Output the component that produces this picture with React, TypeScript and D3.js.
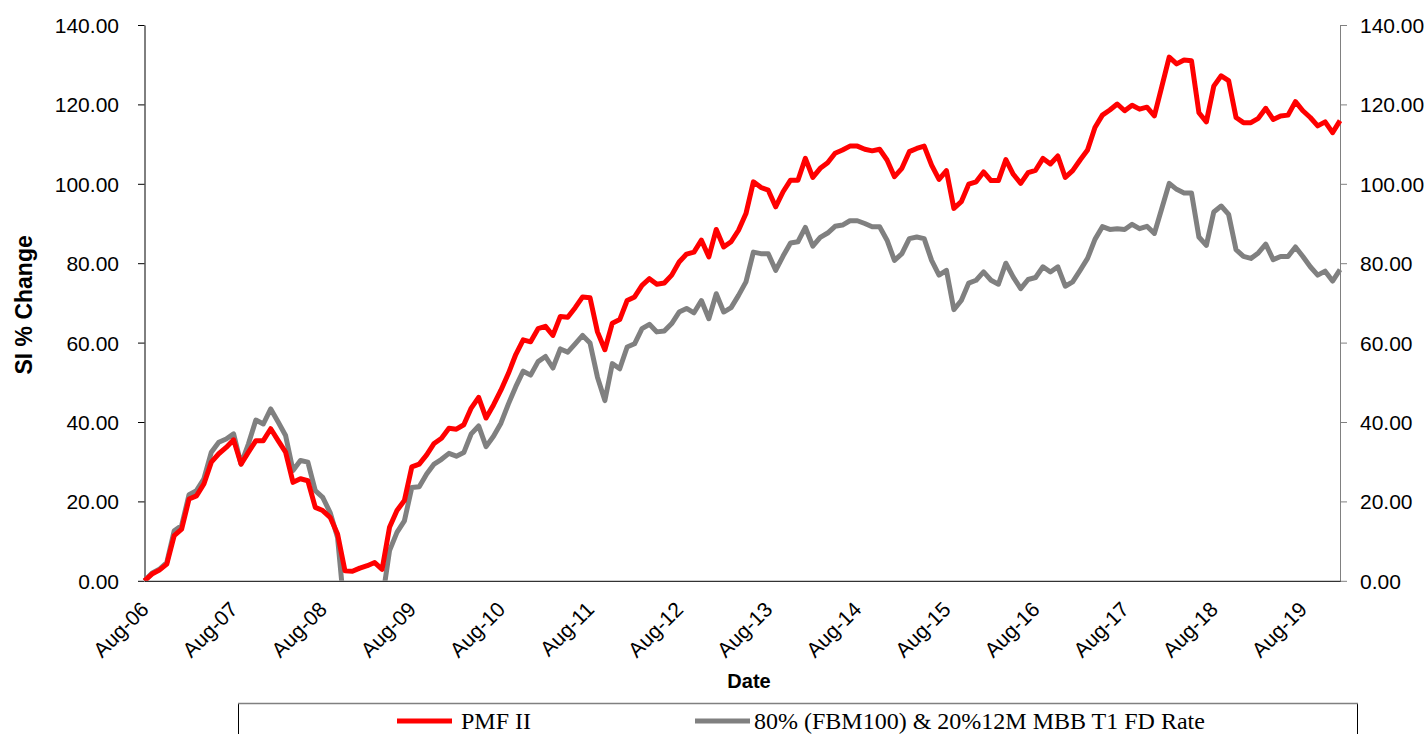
import React, { useEffect, useRef } from 'react';
import * as d3 from 'd3';

// monthly SI % change, inception (Aug-06) then month ends to Dec-19
const pmfValues = [
  0, 1.7, 2.7, 4.2, 11.4, 13, 20.6, 21.4, 24.4, 29.9, 32, 33.6,
  35.5, 29.4, 32.4, 35.3, 35.3, 38.3, 35.3, 32.4, 24.8, 25.7, 25.2, 18.5,
  17.7, 16, 11.8, 2.5, 2.4, 3.2, 3.8, 4.6, 2.9, 13.5, 17.7, 20.2,
  28.7, 29.4, 31.7, 34.6, 35.9, 38.4, 38.2, 39.3, 43.5, 46.2, 41, 44.3,
  48, 52.2, 57, 60.7, 60.2, 63.5, 64.1, 61.8, 66.6, 66.4, 68.8, 71.5,
  71.3, 62.7, 58.2, 64.9, 65.8, 70.6, 71.5, 74.4, 76.1, 74.7, 75, 77,
  80.3, 82.3, 82.8, 85.8, 81.6, 88.5, 84.1, 85.4, 88.3, 92.5, 100.5, 99.1,
  98.4, 94.2, 98, 100.9, 100.9, 106.4, 101.6, 103.9, 105.3, 107.7, 108.5, 109.5,
  109.5, 108.7, 108.3, 108.7, 106, 101.8, 103.9, 108.1, 108.9, 109.5, 104.7, 101.1,
  103.3, 93.8, 95.5, 99.9, 100.5, 103, 100.8, 100.8, 106.1, 102.4, 100.1, 102.8,
  103.4, 106.4, 105, 107, 101.6, 103.3, 106, 108.5, 114.2, 117.3, 118.6, 120.1,
  118.4, 119.8, 118.8, 119.3, 117.1, 124.5, 131.9, 130.2, 131.2, 131, 117.9, 115.6,
  124.6, 127.2, 126, 116.7, 115.4, 115.4, 116.5, 119, 116.2, 117.1, 117.3, 120.7,
  118.4, 116.7, 114.6, 115.6, 112.9, 115.9
];

const benchmarkValues = [
  0, 1.9, 2.9, 4.6, 12.6, 13.9, 21.7, 22.7, 25.7, 32.4, 34.9, 35.7,
  37, 29.4, 34.5, 40.5, 39.5, 43.3, 40, 36.6, 27.8, 30.3, 29.9, 22.7,
  21, 17.2, 10.9, -9, -15, -18, -14, -12, -5, 7.6, 12.2, 15.1,
  23.5, 23.7, 26.9, 29.4, 30.6, 32.1, 31.4, 32.3, 37, 39, 33.8, 36.4,
  39.7, 44.5, 48.9, 52.8, 51.8, 55.2, 56.5, 53.6, 58.4, 57.6, 59.7, 61.8,
  59.9, 51.3, 45.4, 54.7, 53.4, 58.9, 59.7, 63.5, 64.6, 62.7, 62.9, 64.8,
  67.7, 68.6, 67.5, 70.6, 66, 72.3, 67.7, 68.8, 71.9, 75.3, 82.8, 82.4,
  82.4, 78.2, 81.8, 85.1, 85.4, 89, 84.3, 86.5, 87.6, 89.3, 89.6, 90.7,
  90.7, 90, 89.2, 89.2, 85.8, 80.7, 82.4, 86.2, 86.6, 86.2, 80.7, 77,
  78.2, 68.3, 70.6, 75, 75.7, 77.8, 75.7, 74.7, 80, 76.5, 73.6, 75.9,
  76.4, 79.1, 77.8, 79.1, 74.2, 75.3, 78.2, 81.2, 86, 89.2, 88.5, 88.7,
  88.5, 89.8, 88.7, 89.3, 87.5, 93.8, 100.1, 98.6, 97.7, 97.7, 86.6, 84.5,
  92.9, 94.4, 92.3, 83.4, 81.7, 81.2, 82.6, 84.8, 80.9, 81.7, 81.7, 84.1,
  81.7, 79.1, 77, 78, 75.5, 78.4
];

const tickLabels = [
  'Aug-06', 'Aug-07', 'Aug-08', 'Aug-09', 'Aug-10', 'Aug-11', 'Aug-12',
  'Aug-13', 'Aug-14', 'Aug-15', 'Aug-16', 'Aug-17', 'Aug-18', 'Aug-19'
];

const yTicks = [0, 20, 40, 60, 80, 100, 120, 140];

const seriesNames = ['PMF II', '80% (FBM100) & 20%12M MBB T1 FD Rate'];
const seriesColors = ['#ff0000', '#808080'];

const W = 1427;
const H = 734;

export default function App() {
  const ref = useRef<SVGSVGElement>(null);

  useEffect(() => {
    const svg = d3.select(ref.current);
    svg.selectAll('*').remove();

    const left = 144.5, right = 1340, top = 25, bottom = 580.8;
    const x = d3.scaleLinear().domain([0, pmfValues.length - 1]).range([left, right]);
    const y = d3.scaleLinear().domain([0, 140]).range([bottom, top]);
    const sans = 'Liberation Sans, Arial, sans-serif';
    const serif = 'Liberation Serif, Times New Roman, serif';

    svg.append('defs').append('clipPath').attr('id', 'plotClip')
      .append('rect')
      .attr('x', left - 3).attr('y', top - 3)
      .attr('width', right - left + 6).attr('height', bottom - top + 3);

    // left axis
    const yAxisL = svg.append('g')
      .attr('transform', `translate(${left},0)`)
      .call(d3.axisLeft(y).tickValues(yTicks).tickFormat(d3.format('.2f')).tickSize(6.5).tickSizeOuter(0).tickPadding(19));
    yAxisL.select('.domain').attr('stroke', '#000');
    yAxisL.selectAll('text').attr('font-family', sans).attr('font-size', 21).attr('fill', '#000').attr('dy', '0.36em');

    // right axis
    const yAxisR = svg.append('g')
      .attr('transform', `translate(${right},0)`)
      .call(d3.axisRight(y).tickValues(yTicks).tickFormat(d3.format('.2f')).tickSize(7).tickSizeOuter(0).tickPadding(13));
    yAxisR.select('.domain').attr('stroke', '#808080');
    yAxisR.selectAll('line').attr('stroke', '#808080');
    yAxisR.selectAll('text').attr('font-family', sans).attr('font-size', 21).attr('fill', '#000').attr('dy', '0.36em');

    // bottom axis
    const xTicks = tickLabels.map((_, i) => i * 12);
    const xAxis = svg.append('g')
      .attr('transform', `translate(0,${bottom})`)
      .call(d3.axisBottom(x).tickValues(xTicks).tickSize(0).tickSizeOuter(0)
        .tickFormat((_, i) => tickLabels[i]));
    xAxis.select('.domain').attr('stroke', '#000');
    xAxis.selectAll('text')
      .attr('font-family', sans).attr('font-size', 21).attr('fill', '#000')
      .attr('text-anchor', 'end')
      .attr('x', 0).attr('y', 0).attr('dy', 0)
      .attr('transform', 'translate(5,30) rotate(-45)');

    // series
    const line = d3.line<number>().x((_, i) => x(i)).y(d => y(d));
    const plot = svg.append('g').attr('clip-path', 'url(#plotClip)');
    [benchmarkValues, pmfValues].forEach((vals, j) => {
      plot.append('path')
        .datum(vals)
        .attr('d', line)
        .attr('fill', 'none')
        .attr('stroke', seriesColors[1 - j])
        .attr('stroke-width', 5)
        .attr('stroke-linejoin', 'round');
    });

    // titles
    svg.append('text')
      .attr('transform', `translate(32,${(top + bottom) / 2 + 2}) rotate(-90)`)
      .attr('text-anchor', 'middle')
      .attr('font-family', sans).attr('font-weight', 'bold').attr('font-size', 23)
      .text('SI % Change');
    svg.append('text')
      .attr('x', 749).attr('y', 688)
      .attr('text-anchor', 'middle')
      .attr('font-family', sans).attr('font-weight', 'bold').attr('font-size', 20)
      .text('Date');

    // legend
    const lg = svg.append('g');
    lg.append('rect')
      .attr('x', 238.5).attr('y', 703.5).attr('width', 1119).attr('height', 60)
      .attr('fill', 'none').attr('stroke', '#000').attr('stroke-width', 1);
    lg.append('line')
      .attr('x1', 238).attr('x2', 1358).attr('y1', 703.5).attr('y2', 703.5)
      .attr('stroke', '#808080').attr('stroke-width', 1.5);
    const legendX = [397, 695];
    seriesNames.forEach((name, i) => {
      lg.append('line')
        .attr('x1', legendX[i]).attr('x2', legendX[i] + 55)
        .attr('y1', 721).attr('y2', 721)
        .attr('stroke', seriesColors[i]).attr('stroke-width', 5);
      lg.append('text')
        .attr('x', legendX[i] + (i === 0 ? 64 : 59)).attr('y', 728.5)
        .attr('font-family', serif).attr('font-size', 24)
        .text(name);
    });
  }, []);

  return (
    <svg ref={ref} width={W} height={H}
      style={{ position: 'absolute', left: 0, top: 0, background: '#fff' }} />
  );
}
